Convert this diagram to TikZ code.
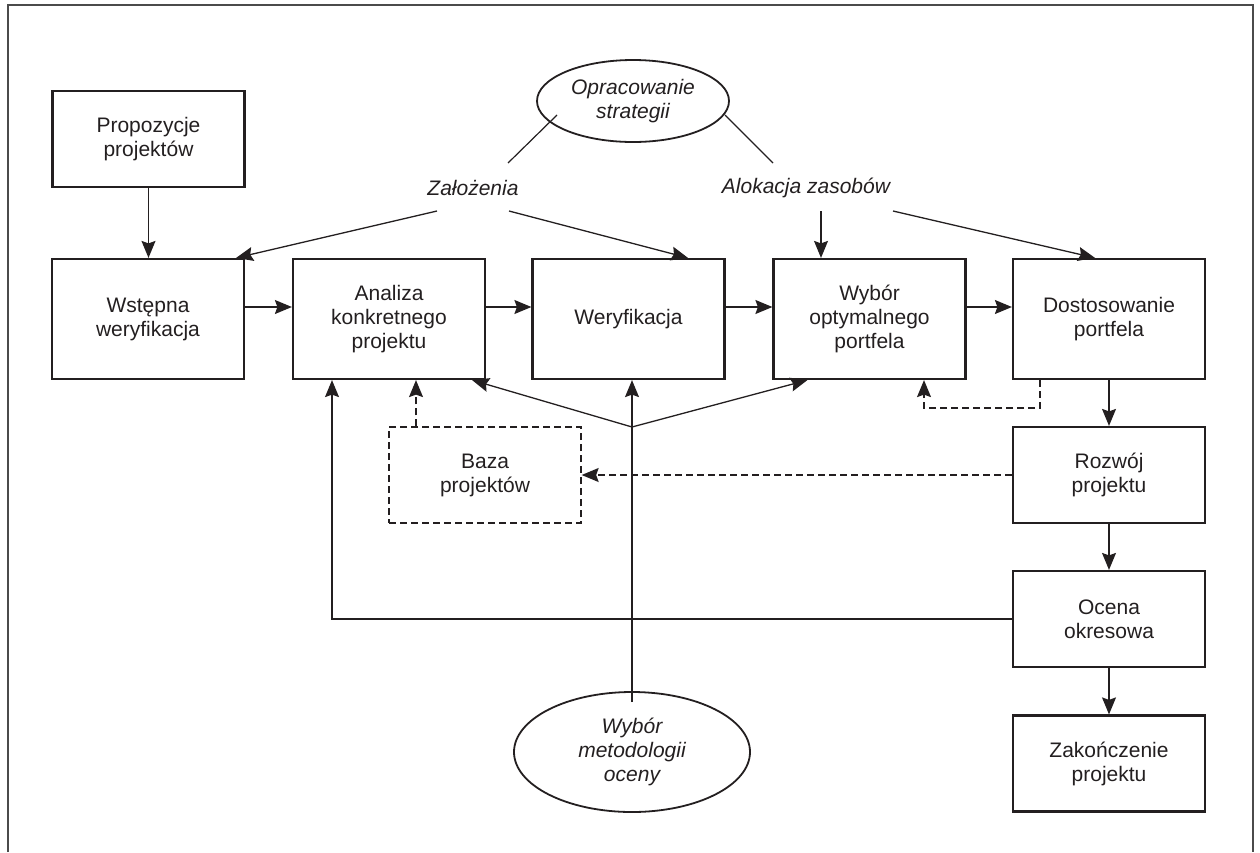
\documentclass[tikz,border=0pt]{standalone}
\usepackage{fontspec}
\setmainfont{Liberation Sans}
\usetikzlibrary{arrows.meta,shapes.geometric}
\definecolor{ink}{RGB}{35,31,32}
\definecolor{framec}{RGB}{75,75,75}
\newcommand{\txtfont}{\fontsize{21pt}{24pt}\selectfont}
\begin{document}
\begin{tikzpicture}[x=1pt,y=-1pt,
  box/.style={draw=ink, line width=2.2pt, minimum width=192pt, minimum height=96pt,
    align=center, font=\txtfont, text=ink, inner sep=0pt},
  tallbox/.style={box, minimum height=120pt},
  dashbox/.style={box, line width=1.3pt, dash pattern=on 7pt off 4pt},
  ell/.style={ellipse, draw=ink, line width=1.8pt, align=center, font=\txtfont\itshape,
    text=ink, inner sep=0pt},
  lbl/.style={font=\txtfont\itshape, text=ink, inner sep=0pt},
  con/.style={draw=ink, line width=1.3pt, -{Stealth[length=17pt,width=14pt,inset=2.5pt]}},
  plain/.style={draw=ink, line width=1.2pt},
  dcon/.style={con, dash pattern=on 7pt off 4pt},
  frameline/.style={draw=framec, line width=1.8pt}
]
\useasboundingbox (0,0) rectangle (1260,852);
\draw[frameline] (8,852) -- (8,5) -- (1253,5) -- (1253,852);

% nodes
\node[box] (prop) at (148.5,139) {Propozycje\\projektów};
\node[tallbox] (wst) at (148,319) {Wstępna\\weryfikacja};
\node[tallbox] (ana) at (389,319) {Analiza\\konkretnego\\projektu};
\node[tallbox] (wer) at (628.5,319) {Weryfikacja};
\node[tallbox] (wyb) at (869.5,319) {Wybór\\optymalnego\\portfela};
\node[tallbox] (dos) at (1109,319) {Dostosowanie\\portfela};
\node[box] (roz) at (1109,475) {Rozwój\\projektu};
\node[box] (oce) at (1109,619) {Ocena\\okresowa};
\node[box] (zak) at (1109,763.5) {Zakończenie\\projektu};
\node[dashbox] (baza) at (485,475) {Baza\\projektów};
\node[ell, minimum width=192pt, minimum height=82pt] (ops) at (633,101) {Opracowanie\\strategii};
\node[ell, minimum width=236pt, minimum height=120pt] (wmo) at (632,752) {Wybór\\metodologii\\oceny};
\node[lbl] (zal) at (473,188) {Założenia};
\node[lbl] (alo) at (806,188) {Alokacja zasobów};

% free ends
\coordinate (opsL) at (557,115);
\coordinate (opsLend) at (508,163);
\coordinate (opsR) at (725,115);
\coordinate (opsRend) at (773,163);
\coordinate (zalL) at (437,211);
\coordinate (zalR) at (509,211);
\coordinate (aloD) at (821,211);
\coordinate (aloR) at (893,211);
\coordinate (j) at (632,427);

% strategy lines
\draw[plain] (opsL) -- (opsLend);
\draw[plain] (opsR) -- (opsRend);
\draw[con] (zalL) -- ([xshift=-9pt]wst.north east);
\draw[con] (zalR) -- ([xshift=59.5pt]wer.north);
\draw[con] (aloD) -- (aloD |- wyb.north);
\draw[con] (aloR) -- ([xshift=-14pt]dos.north);

% main flow
\draw[con] (prop.south) -- (prop.south |- wst.north);
\draw[con] ([yshift=12pt]wst.east) -- ([yshift=12pt]ana.west);
\draw[con] ([yshift=12pt]ana.east) -- ([yshift=12pt]wer.west);
\draw[con] ([yshift=12pt]wer.east) -- ([yshift=12pt]wyb.west);
\draw[con] ([yshift=12pt]wyb.east) -- ([yshift=12pt]dos.west);
\draw[con] (dos.south) -- (roz.north);
\draw[con] (roz.south) -- (oce.north);
\draw[con] (oce.south) -- (zak.north);

% feedback
\draw[con] (oce.west) -| ([xshift=-57pt]ana.south);
\draw[dcon] ([xshift=-69pt]baza.north) -- ([xshift=-69pt]baza.north |- ana.south);
\draw[dcon] (roz.west) -- (baza.east);
\draw[dcon] ([xshift=-69pt]dos.south) -- ++(0,28) -| ([xshift=54.5pt]wyb.south);

% methodology
\draw[con] ([yshift=-11pt]wmo.north) -- (wmo.north |- wer.south);
\draw[con] (j) -- ([xshift=-14pt]ana.south east);
\draw[con] (j) -- ([xshift=35pt]wyb.south west);
\end{tikzpicture}
\end{document}
